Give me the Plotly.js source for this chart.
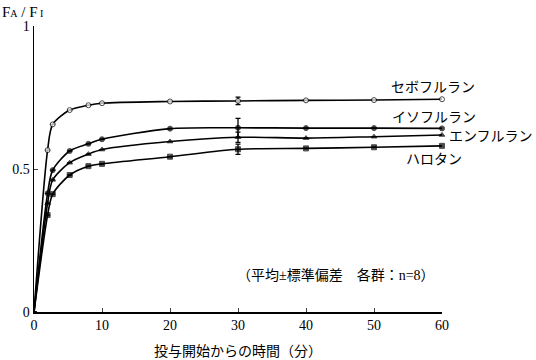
<!DOCTYPE html>
<html>
<head>
<meta charset="utf-8">
<script src="https://cdn.plot.ly/plotly-3.0.1.min.js"></script>
<style>
html,body{margin:0;padding:0;background:#fff;}
#chart{width:536px;height:360px;}
</style>
</head>
<body>
<div id="chart"></div>
<script>
// Time after start of administration (min)
const times = [0, 2, 2.75, 5.25, 8, 10, 20, 30, 40, 50, 60];
// FA/FI values
const sevoflurane = [0, 0.566, 0.656, 0.706, 0.723, 0.730, 0.736, 0.738, 0.740, 0.741, 0.744];
const isoflurane  = [0, 0.415, 0.496, 0.563, 0.588, 0.604, 0.641, 0.644, 0.643, 0.643, 0.642];
const enflurane   = [0, 0.380, 0.462, 0.522, 0.552, 0.568, 0.596, 0.611, 0.608, 0.613, 0.619];
const halothane   = [0, 0.339, 0.412, 0.479, 0.510, 0.518, 0.543, 0.569, 0.572, 0.576, 0.581];
// Standard deviation (shown at 30 min only)
const sevoSD = [null, null, null, null, null, null, null, 0.013, null, null, null];
const isoSD  = [null, null, null, null, null, null, null, 0.033, null, null, null];
const enfSD  = [null, null, null, null, null, null, null, 0.018, null, null, null];
const haloSD = [null, null, null, null, null, null, null, 0.018, null, null, null];
const seriesNames = ['セボフルラン', 'イソフルラン', 'エンフルラン', 'ハロタン'];
const xTicks = [0, 10, 20, 30, 40, 50, 60];
const yTicks = [0, 0.5, 1];
const yTickText = ['0', '0.5', '1'];

const serif = "'Liberation Serif', 'DejaVu Serif', 'Noto Sans CJK JP', serif";
const jp = "'Noto Sans CJK JP', 'Liberation Serif', serif";

function sizes(s){ return times.map((t,i)=> i===0 ? 0 : s); }

function mk(y, sd, symbol, fill, size){
  return {
    x: times, y: y, type: 'scatter', mode: 'lines+markers',
    line: {color: '#000', width: 1.6, shape: 'spline', smoothing: 0.8},
    marker: {symbol: symbol, size: sizes(size), color: fill,
             line: {color: '#000', width: 1}},
    error_y: {type: 'data', array: sd, visible: true, color: '#000', thickness: 1.3, width: 2.5},
    cliponaxis: false, showlegend: false, hoverinfo: 'skip'
  };
}

const data = [
  mk(halothane, haloSD, 'square', '#000', 5),
  mk(enflurane, enfSD, 'triangle-up', '#000', 5),
  mk(isoflurane, isoSD, 'circle', '#000', 5),
  mk(sevoflurane, sevoSD, 'circle', '#fff', 5)
];

function px(xp){ return (xp - 34) / 408; }
function py(yp){ return (312 - yp) / 286; }

function label(text, xp, yp, family, size, xanchor){
  return {xref: 'paper', yref: 'paper', x: px(xp), y: py(yp),
          xanchor: xanchor || 'center', yanchor: 'middle', showarrow: false,
          text: text, font: {family: family, size: size, color: '#000'}};
}

const layout = {
  width: 536, height: 360,
  margin: {l: 34, r: 94, t: 26, b: 48},
  paper_bgcolor: '#fff', plot_bgcolor: '#fff',
  font: {family: serif, size: 13, color: '#000'},
  showlegend: false,
  xaxis: {
    range: [0, 60], tickvals: xTicks, ticks: 'inside', ticklen: 4, tickwidth: 1,
    showline: true, linecolor: '#000', linewidth: 1.5, showgrid: false, zeroline: false,
    tickfont: {family: serif, size: 14, color: '#000'}
  },
  yaxis: {
    range: [0, 1], tickvals: yTicks, ticktext: yTickText, ticks: 'inside', ticklen: 4, tickwidth: 1,
    showline: true, linecolor: '#000', linewidth: 1.5, showgrid: false, zeroline: false,
    tickfont: {family: serif, size: 14, color: '#000'}
  },
  annotations: [
    label("F<span style='font-size:10px'>A</span> / F<span style='font-size:10px'> I</span>", 0, 12, serif, 15, 'left'),
    label(seriesNames[0], 433, 86, jp, 14),
    label(seriesNames[1], 434, 116, jp, 14),
    label(seriesNames[2], 491, 135, jp, 14),
    label(seriesNames[3], 434, 158, jp, 14),
    label('（平均±標準偏差　各群：n=8）', 336, 275, serif, 14),
    label('投与開始からの時間（分）', 238, 350, jp, 14)
  ]
};

Plotly.newPlot('chart', data, layout, {staticPlot: true, displayModeBar: false});
</script>
</body>
</html>
